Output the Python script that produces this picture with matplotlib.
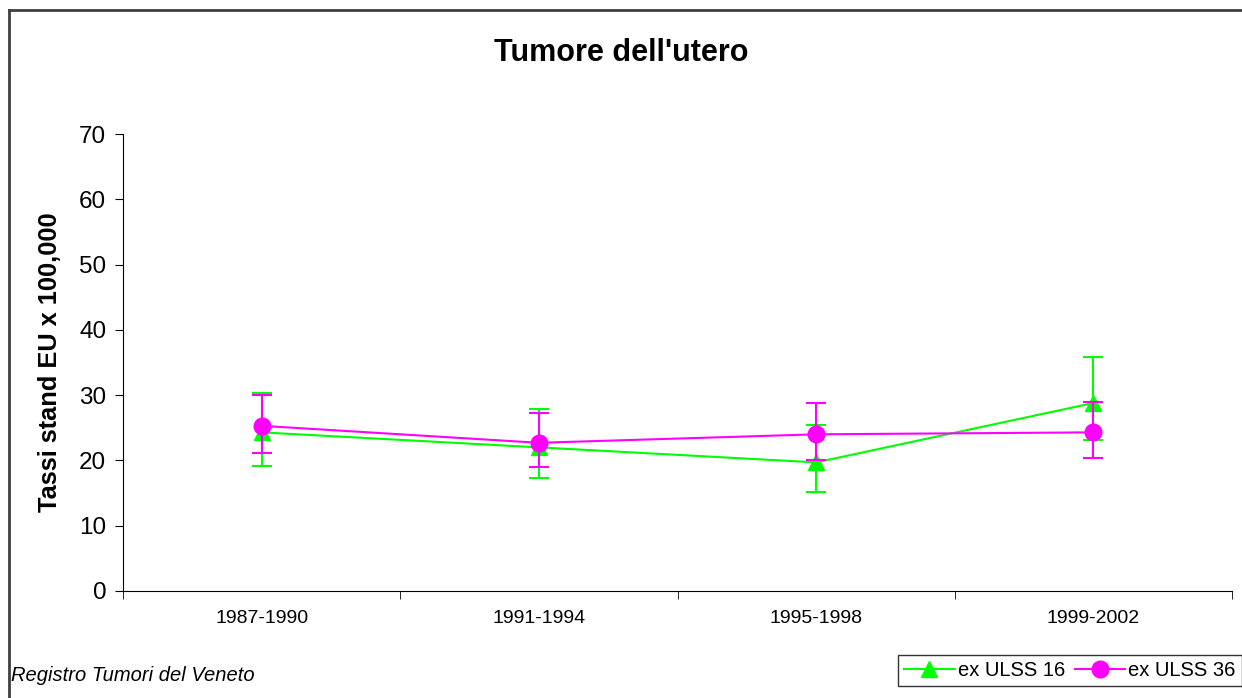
import numpy as np
import matplotlib
matplotlib.use("Agg")
import matplotlib.pyplot as plt
from matplotlib.lines import Line2D

plt.rcParams['font.family'] = ['Liberation Sans', 'DejaVu Sans']

periods = ['1987-1990', '1991-1994', '1995-1998', '1999-2002']

# ex ULSS 16 - rate and confidence limits
ulss16 = [24.3, 22.0, 19.7, 28.8]
ulss16_low = [19.2, 17.3, 15.2, 23.1]
ulss16_high = [30.3, 27.9, 25.4, 35.9]

# ex ULSS 36 - rate and confidence limits
ulss36 = [25.3, 22.7, 24.0, 24.3]
ulss36_low = [21.2, 19.0, 20.1, 20.4]
ulss36_high = [30.0, 27.2, 28.8, 29.0]

green = '#00ff00'
magenta = '#ff00ff'

fig = plt.figure(figsize=(12.42, 6.98), dpi=100)
ax = fig.add_axes([0.099, 0.1533, 0.893, 0.6547])

x = np.arange(len(periods))

y16 = np.array(ulss16)
err16 = [y16 - np.array(ulss16_low), np.array(ulss16_high) - y16]
ax.errorbar(x, y16, yerr=err16, color=green, lw=1.5, marker='^', ms=11,
            capsize=7, capthick=1.5, elinewidth=1.5, zorder=3)

y36 = np.array(ulss36)
err36 = [y36 - np.array(ulss36_low), np.array(ulss36_high) - y36]
ax.errorbar(x, y36, yerr=err36, color=magenta, lw=1.5, marker='o', ms=12,
            capsize=7, capthick=1.5, elinewidth=1.5, zorder=4)

ax.set_xlim(-0.5, len(periods) - 0.5)
ax.set_ylim(0, 70)
ax.set_yticks(range(0, 71, 10))
ax.set_xticks(x)
ax.set_xticklabels(periods, fontsize=14)
ax.set_xticks(np.arange(-0.5, len(periods), 1), minor=True)
ax.tick_params(axis='x', which='major', length=0, pad=14)
ax.tick_params(axis='x', which='minor', length=6, direction='out')
ax.tick_params(axis='y', labelsize=17.5, length=6, direction='out', pad=6)

for side in ['top', 'right']:
    ax.spines[side].set_visible(False)

ax.set_ylabel('Tassi stand EU x 100,000', fontsize=18.3, fontweight='bold', labelpad=12)

fig.text(0.5, 0.924, "Tumore dell'utero", ha='center', va='center',
         fontsize=22, fontweight='bold')
fig.text(0.009, 0.032, 'Registro Tumori del Veneto', ha='left', va='center',
         fontsize=14.5, style='italic')

# outer chart frame
fig.add_artist(Line2D([0.0075, 0.0075], [0, 0.985], color='#404040', lw=2,
                      transform=fig.transFigure))
fig.add_artist(Line2D([0.0075, 1.0], [0.985, 0.985], color='#404040', lw=2,
                      transform=fig.transFigure))

handles = [Line2D([], [], color=green, marker='^', ms=11, lw=1.5),
           Line2D([], [], color=magenta, marker='o', ms=12, lw=1.5)]
leg = fig.legend(handles, ['ex ULSS 16', 'ex ULSS 36'], ncol=2,
                 loc='lower right', bbox_to_anchor=(1.003, 0.012),
                 fontsize=14.5, frameon=True, fancybox=False, edgecolor='black',
                 handlelength=2.5, columnspacing=0.5, handletextpad=0.15,
                 borderpad=0.3, borderaxespad=0.2)
leg.get_frame().set_linewidth(1)

fig.savefig('out.png', dpi=100)
